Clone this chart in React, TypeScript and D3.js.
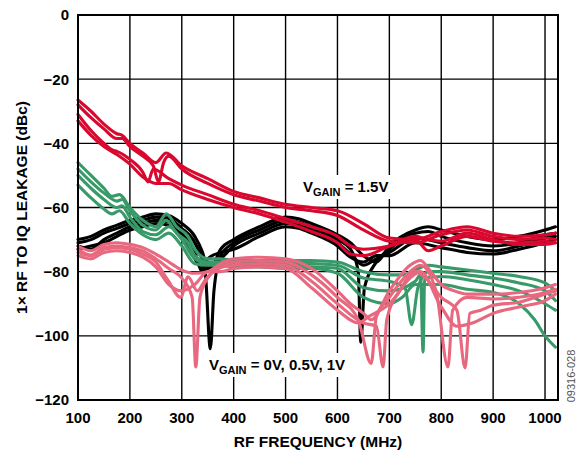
import React from "react";
import * as d3 from "d3";

type P = [number, number];

const xTicks = [100, 200, 300, 400, 500, 600, 700, 800, 900, 1000];
const yTicks = [0, -20, -40, -60, -80, -100, -120];

// VGAIN = 1.5V (red)
const red1: P[] = [[100,-26.5],[125,-30],[150,-34],[175,-37],[185,-37.5],[200,-40],[225,-43],[250,-46],[270,-43],[300,-47],[350,-51],[400,-55],[450,-57],[500,-59],[550,-60],[600,-61],[650,-65],[700,-69.5],[750,-70],[800,-67.5],[850,-66],[900,-68],[950,-69],[1000,-68.5],[1020,-68]];
const red2: P[] = [[100,-28],[125,-32],[150,-35.5],[175,-38.5],[185,-38.5],[200,-41],[225,-44],[245,-47],[255,-52],[265,-46],[275,-44],[300,-48],[350,-52.5],[400,-56],[450,-58],[500,-60],[550,-61],[600,-62.5],[650,-67],[700,-70.5],[750,-71],[800,-68.5],[850,-67],[900,-69],[950,-70],[1000,-69.5],[1020,-70]];
const red3: P[] = [[100,-31],[125,-36],[150,-40],[165,-42],[175,-42.5],[200,-45],[225,-49],[235,-52],[245,-48],[275,-51],[300,-53],[350,-56],[400,-59],[450,-61],[500,-63.5],[550,-66],[600,-69],[625,-72],[650,-73],[700,-72],[750,-70],[775,-73.5],[800,-72],[850,-69],[900,-70.5],[950,-71],[1000,-70.5],[1020,-71]];
const red4: P[] = [[100,-33],[125,-37.5],[150,-41],[175,-43.5],[200,-46.5],[225,-50.5],[250,-52.5],[275,-52.5],[300,-54.5],[350,-57.5],[400,-60],[450,-62],[500,-64.5],[550,-67.5],[600,-71],[625,-74.5],[650,-75],[700,-72],[750,-69],[775,-70],[800,-70.5],[850,-68],[900,-70],[950,-71.5],[1000,-71.5],[1020,-71]];

// black
const blk1: P[] = [[100,-70],[125,-69],[150,-67],[175,-65.5],[200,-64],[225,-63],[250,-62],[275,-62.5],[300,-65],[325,-69],[340,-74],[350,-79],[360,-78],[375,-73],[400,-70],[450,-66],[500,-63],[525,-63.5],[550,-65],[600,-68.5],[625,-71],[650,-75],[675,-77],[700,-72],[750,-67],[775,-66],[800,-67],[850,-69],[900,-70],[950,-69],[1000,-67],[1020,-66]];
const blk2: P[] = [[100,-71],[125,-70],[150,-68],[175,-66.5],[200,-65],[225,-64],[250,-63],[275,-63.5],[300,-66.5],[325,-71],[345,-80],[355,-104],[362,-86],[375,-75],[400,-71],[450,-67],[500,-64],[525,-64.5],[550,-66],[600,-70],[625,-73],[640,-80],[645,-102],[652,-85],[675,-77],[700,-73],[750,-68],[775,-67.5],[800,-69],[850,-71],[900,-72],[950,-71],[1000,-68.5],[1020,-68]];
const blk3: P[] = [[100,-72],[125,-73],[150,-70],[175,-68],[200,-66],[225,-65],[250,-64],[275,-64.5],[300,-68],[325,-74],[340,-80],[350,-79],[375,-76],[400,-72],[450,-68],[500,-65],[525,-65.5],[550,-67],[600,-71],[625,-74.5],[650,-78],[675,-76],[700,-74],[750,-69.5],[800,-71],[850,-72.5],[900,-73.5],[950,-72],[1000,-69.5],[1020,-69]];
const blk4: P[] = [[100,-73],[125,-72],[150,-71],[175,-69],[200,-67],[225,-66],[250,-65],[275,-65.5],[300,-69],[325,-76],[340,-79],[350,-76],[375,-74],[400,-73],[450,-69],[500,-66],[525,-66.5],[550,-68],[600,-72],[625,-75.5],[650,-77],[675,-75],[700,-75],[750,-71],[800,-72.5],[850,-74],[900,-74.5],[950,-73],[1000,-71],[1020,-70]];

// green
const grn1: P[] = [[100,-46],[125,-50],[150,-54],[165,-56.5],[180,-56],[200,-60],[225,-64],[250,-66],[270,-62],[290,-66],[312,-69],[325,-73],[350,-76],[375,-76],[400,-76.5],[450,-76.5],[500,-76.5],[550,-76.5],[600,-77],[650,-80],[700,-81],[725,-81],[750,-79.5],[775,-78],[800,-78.5],[850,-79.5],[900,-80.5],[950,-81.5],[1000,-83.5],[1020,-86]];
const grn2: P[] = [[100,-48],[125,-52],[150,-55.5],[175,-58],[185,-57.5],[200,-61],[225,-65.5],[250,-67],[270,-64],[290,-68],[312,-71],[325,-75],[350,-77],[375,-77],[400,-77],[450,-77.5],[500,-77.5],[550,-77.5],[600,-78],[650,-82],[700,-83],[730,-85],[743,-96.5],[755,-85],[775,-80],[800,-80],[850,-81],[900,-82],[950,-83.5],[1000,-86],[1020,-89]];
const grn3: P[] = [[100,-50],[125,-54],[150,-57.5],[175,-60],[185,-59.5],[200,-63],[225,-67.5],[250,-68.5],[275,-66],[300,-70],[325,-76],[350,-77.5],[375,-77.5],[400,-78],[450,-78],[500,-78],[550,-78.5],[600,-79],[650,-85],[700,-86],[750,-83],[760,-81],[765,-105],[768,-82],[800,-81.5],[850,-82.5],[900,-84],[950,-86],[1000,-90],[1020,-92]];
const grn4: P[] = [[100,-53],[125,-57],[150,-60.5],[165,-62],[180,-61],[200,-65],[225,-68.5],[250,-70],[275,-68],[300,-72],[325,-77.5],[350,-78],[375,-78],[400,-78.5],[450,-78.5],[500,-79],[550,-79],[600,-80.5],[650,-88],[700,-90],[725,-88],[750,-84],[800,-84],[850,-85.5],[900,-86.5],[950,-90],[980,-95],[1000,-100],[1020,-103.5]];

// pink
const pnk1: P[] = [[100,-72],[125,-73.5],[150,-71.5],[175,-71],[200,-71.5],[225,-72.5],[250,-74.5],[275,-77],[300,-79.5],[325,-80.5],[350,-80],[375,-77.5],[400,-76],[450,-75.5],[500,-76],[525,-77],[550,-79],[600,-86],[625,-90],[650,-93],[665,-95],[700,-86],[740,-78],[760,-76.5],[780,-80],[800,-84],[825,-86],[850,-87],[900,-87],[950,-86.5],[1000,-85],[1020,-84]];
const pnk2: P[] = [[100,-73],[125,-74.8],[150,-72.5],[175,-72],[200,-72.5],[225,-73.5],[250,-76],[275,-79],[300,-82],[320,-88],[327,-109.7],[335,-88],[350,-82],[375,-78.5],[400,-77],[450,-76.5],[500,-77],[550,-81],[600,-88],[640,-95],[665,-108.6],[675,-94],[700,-88],[740,-80],[760,-78],[790,-86],[813,-109.7],[822,-92],[850,-88],[900,-88.5],[950,-88],[1000,-86.5],[1020,-85.5]];
const pnk3: P[] = [[100,-74],[125,-75],[150,-73],[175,-72.5],[200,-73],[225,-74.5],[250,-77],[273,-82.6],[298,-88],[312,-81.6],[330,-86],[345,-82.6],[370,-79],[400,-78],[450,-77.5],[500,-78],[550,-83],[600,-90],[650,-96],[675,-97],[688,-109.7],[695,-95],[720,-86],[750,-80],[770,-82],[800,-88],[830,-92],[846,-110],[855,-93],[876,-92],[900,-90.5],[950,-89.5],[1000,-87],[1020,-86]];
const pnk4: P[] = [[100,-75],[125,-76],[150,-74],[175,-73.5],[200,-74],[225,-75.5],[250,-78.5],[275,-84],[300,-86],[325,-84],[350,-80],[375,-80],[400,-79],[450,-78.5],[500,-79],[550,-85],[600,-92],[640,-96],[660,-94],[700,-90],[740,-82],[760,-80],[800,-91],[830,-97],[860,-96],[900,-93],[950,-91],[1000,-89],[1020,-87]];

const RED = "#D9082F";
const BLACK = "#000000";
const GREEN = "#389A69";
const PINK = "#E8687F";

const groups: { color: string; lines: P[][] }[] = [
  { color: BLACK, lines: [blk1, blk2, blk3, blk4] },
  { color: RED, lines: [red1, red2, red3, red4] },
  { color: GREEN, lines: [grn1, grn2, grn3, grn4] },
  { color: PINK, lines: [pnk1, pnk2, pnk3, pnk4] },
];

const W = 577, H = 450;
const L = 78, R = 558, T = 15, B = 400;
const FONT = "'Liberation Sans', Arial, Helvetica, sans-serif";

export default function App() {
  const x = d3.scaleLinear().domain([100, 1025]).range([L, R]);
  const y = d3.scaleLinear().domain([-120, 0]).range([B, T]);
  const line = d3.line<P>().x(d => x(d[0])).y(d => y(d[1])).curve(d3.curveMonotoneX);

  return (
    <svg width={W} height={H} style={{ position: "absolute", left: 0, top: 0, background: "#fff" }} fontFamily={FONT}>
      <rect x={0} y={0} width={W} height={H} fill="#fff" />
      {/* grid */}
      {xTicks.slice(1).map(t => (
        <line key={"gx" + t} x1={x(t)} x2={x(t)} y1={T} y2={B} stroke="#000" strokeWidth={1.4} />
      ))}
      {yTicks.slice(1, -1).map(t => (
        <line key={"gy" + t} x1={L} x2={R} y1={y(t)} y2={y(t)} stroke="#000" strokeWidth={1.4} />
      ))}
      {/* data */}
      <g fill="none" strokeWidth={3.1} strokeLinejoin="round" strokeLinecap="round">
        {groups.map((g, gi) =>
          g.lines.map((ln, li) => (
            <path key={gi + "-" + li} d={line(ln) || ""} stroke={g.color} />
          ))
        )}
      </g>
      {/* frame */}
      <rect x={L} y={T} width={R - L} height={B - T} fill="none" stroke="#000" strokeWidth={2} />
      {/* tick labels */}
      <g fontSize={15} fontWeight="bold" fill="#000">
        {yTicks.map(t => (
          <text key={"ly" + t} x={L - 9} y={y(t)} dy="0.36em" textAnchor="end">
            {t === 0 ? "0" : "\u2212" + Math.abs(t)}
          </text>
        ))}
        {xTicks.map(t => (
          <text key={"lx" + t} x={x(t)} y={423} textAnchor="middle">{t}</text>
        ))}
      </g>
      {/* axis titles */}
      <text x={(L + R) / 2} y={447} textAnchor="middle" fontSize={15.5} fontWeight="bold">RF FREQUENCY (MHz)</text>
      <text transform={`translate(27,${(T + B) / 2}) rotate(-90)`} textAnchor="middle" fontSize={15.5} fontWeight="bold">1× RF TO IQ LEAKAGE (dBc)</text>
      {/* annotations */}
      <rect x={301} y={175} width={92} height={24} fill="#fff" />
      <text x={303} y={192} fontSize={15} fontWeight="bold">
        <tspan>V</tspan><tspan dy={4} fontSize={11}>GAIN</tspan><tspan dy={-4}> = 1.5V</tspan>
      </text>
      <rect x={207} y={353} width={158} height={24} fill="#fff" />
      <text x={209} y={370} fontSize={15} fontWeight="bold">
        <tspan>V</tspan><tspan dy={4} fontSize={11}>GAIN</tspan><tspan dy={-4}> = 0V, 0.5V, 1V</tspan>
      </text>
      <text transform="translate(575,376) rotate(-90)" textAnchor="middle" fontSize={11} fill="#555">09316-028</text>
    </svg>
  );
}
